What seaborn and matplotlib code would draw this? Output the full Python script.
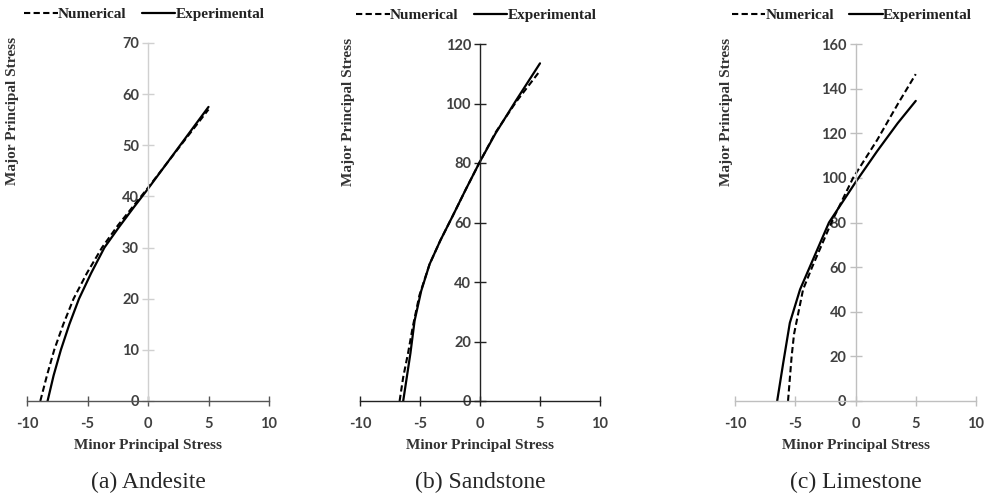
import pandas as pd
import matplotlib.pyplot as plt
import seaborn as sns

# values
andesite_num_x = [-8.9, -8.35, -7.75, -7.0, -6.15, -5.05, -3.8, -2.5, -1.25, 0.0, 1.5, 3.0, 5.0]
andesite_num_y = [0, 5, 10, 15, 20, 25, 30, 34.3, 38.0, 41.7, 46.3, 50.9, 57.0]
andesite_exp_x = [-8.3, -7.8, -7.2, -6.5, -5.7, -4.7, -3.6, -2.4, -1.2, 0.0, 1.5, 3.0, 5.0]
andesite_exp_y = [0, 5, 10, 15, 20, 25, 30, 34.0, 37.8, 41.5, 46.3, 51.1, 57.5]

sandstone_num_x = [-6.7, -6.4, -6.0, -5.6, -5.05, -4.2, -3.3, -2.3, -1.2, 0.0, 1.3, 3.0, 5.0]
sandstone_num_y = [0, 8, 16, 25, 35.5, 46, 54, 62, 71, 80.5, 90.3, 100.5, 111.0]
sandstone_exp_x = [-6.4, -6.1, -5.8, -5.45, -4.9, -4.2, -3.3, -2.3, -1.2, 0.0, 1.3, 3.0, 5.0]
sandstone_exp_y = [0, 8, 16, 27, 37, 46, 54, 62, 71, 80.5, 90, 101, 113.5]

limestone_num_x = [-5.6, -5.45, -5.3, -5.1, -4.35, -3.6, -2.0, -1.1, -0.2, 1.8, 3.5, 5.0]
limestone_num_y = [0, 10, 20, 30, 50, 60, 80, 90, 100, 117, 133, 146.5]
limestone_exp_x = [-6.5, -6.0, -5.45, -4.6, -3.8, -3.0, -2.2, -1.1, 0.0, 1.8, 3.5, 5.0]
limestone_exp_y = [0, 17, 35, 50, 60, 70, 80, 89, 98, 112, 124.5, 134.5]

x_ticks = [-10, -5, 0, 5, 10]
captions = ['(a) Andesite', '(b) Sandstone', '(c) Limestone']
y_tops = [70, 120, 160]
y_steps = [10, 20, 20]

panels = [
    (andesite_num_x, andesite_num_y, andesite_exp_x, andesite_exp_y),
    (sandstone_num_x, sandstone_num_y, sandstone_exp_x, sandstone_exp_y),
    (limestone_num_x, limestone_num_y, limestone_exp_x, limestone_exp_y),
]

sns.set_style('white')
plt.rcParams['font.family'] = ['Liberation Serif', 'DejaVu Serif']
plt.rcParams['axes.unicode_minus'] = False

fig = plt.figure(figsize=(9.88, 4.99), dpi=100)

lefts = [27, 360, 735]
widths = [242, 240, 241]
tops = [43, 44, 44]
vspine = ['#d0d0d0', '#222222', '#bfbfbf']
hspine = ['#555555', '#222222', '#bfbfbf']
ylab_x = [-0.058, -0.048, -0.036]

for i, (nx, ny, ex, ey) in enumerate(panels):
    l, w, t = lefts[i], widths[i], tops[i]
    ax = fig.add_axes([l / 988, (499 - 401) / 499, w / 988, (401 - t) / 499])
    num = pd.DataFrame({'x': nx, 'y': ny})
    exp = pd.DataFrame({'x': ex, 'y': ey})
    sns.lineplot(data=num, x='x', y='y', sort=False, estimator=None, ax=ax,
                 color='black', lw=1.5, linestyle=(0, (3, 1.6)), label='Numerical')
    sns.lineplot(data=exp, x='x', y='y', sort=False, estimator=None, ax=ax,
                 color='black', lw=1.6, label='Experimental')

    ax.set_xlim(-10, 10)
    ax.set_ylim(0, y_tops[i])
    ax.set_xticks(x_ticks)
    ax.set_yticks(range(0, y_tops[i] + 1, y_steps[i]))
    ax.spines['left'].set_position(('data', 0))
    ax.spines['bottom'].set_position(('data', 0))
    ax.spines['top'].set_visible(False)
    ax.spines['right'].set_visible(False)
    ax.spines['left'].set_color(vspine[i])
    ax.spines['bottom'].set_color(hspine[i])
    ax.spines['left'].set_linewidth(1.0)
    ax.spines['bottom'].set_linewidth(1.0)
    ax.tick_params(axis='x', bottom=True, direction='inout', length=7, width=1.0,
                   color=hspine[i], pad=8)
    ax.tick_params(axis='y', left=True, direction='inout', length=9, width=1.0,
                   color=vspine[i], pad=2)
    for lab in ax.get_xticklabels() + ax.get_yticklabels():
        lab.set_fontfamily('Lato')
        lab.set_fontweight('bold')
        lab.set_fontsize(10.5)
        lab.set_color('#404040')

    ax.set_xlabel('Minor Principal Stress', fontsize=11, fontweight='bold',
                  color='#333333', labelpad=6)
    ax.set_ylabel('Major Principal Stress', fontsize=11, fontweight='bold',
                  color='#333333', va='center')
    ax.yaxis.set_label_coords(ylab_x[i], 0.81)

    leg = ax.legend(loc='center', bbox_to_anchor=(0.485, 1.08), ncol=2, frameon=False,
                    handlelength=2.2, handletextpad=0.0, columnspacing=1.0,
                    prop={'family': 'Liberation Serif', 'weight': 'bold', 'size': 11})
    for txt in leg.get_texts():
        txt.set_color('#222222')

    fig.text((l + w / 2) / 988, 1 - 482 / 499, captions[i], ha='center', va='center',
             fontsize=17, family='Liberation Serif')

fig.savefig('out.png', dpi=100)
